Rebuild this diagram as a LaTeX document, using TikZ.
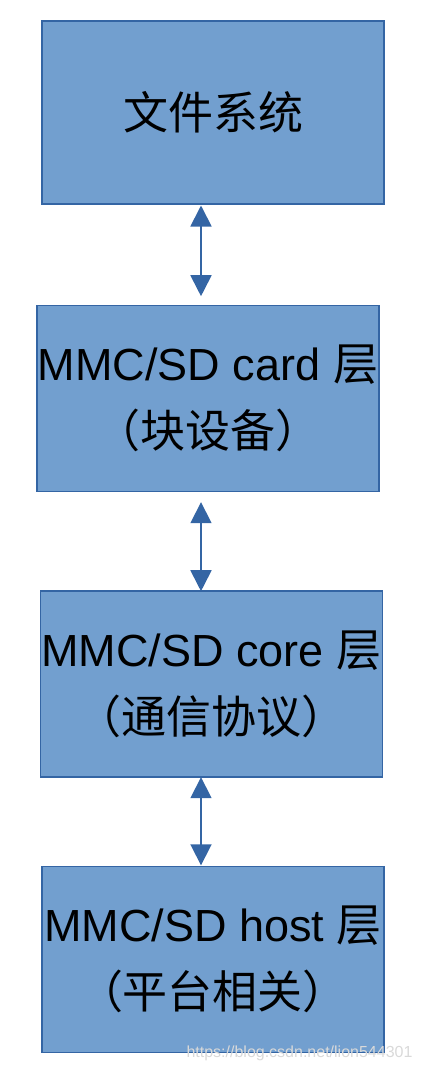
\documentclass[tikz,border=0pt]{standalone}
\usepackage{fontspec}
\setmainfont{Liberation Sans}
\newfontfamily\cjk{Noto Sans CJK SC}
\usepackage{xcolor}
\usetikzlibrary{positioning,arrows.meta}
\definecolor{layerfill}{HTML}{729FCF}
\definecolor{layerline}{HTML}{3465A4}
\begin{document}
\begin{tikzpicture}[x=1pt,y=-1pt,
                layer/.style = {draw = layerline, fill = layerfill, line width = 1.5pt,
                    minimum width = 342pt, minimum height = 186pt, inner sep = 0pt, outer sep = 0pt,
                    align = center, font = \fontsize{45}{67}\selectfont},
                link/.style = {draw = layerline, line width = 1.8pt,
                    {Triangle[width=21pt,length=21pt]}-{Triangle[width=21pt,length=21pt]}}]
            \useasboundingbox (0,0) rectangle (424,1072);
            \node[layer, minimum height = 183pt] (nfs) at (213,112.5) {{\cjk 文件系统}};
            \node[layer] (ncard) at (208,398.7) {MMC/SD card {\cjk 层}\\{\cjk （块设备）}};
            \node[layer] (ncore) at (211.5,684.2) {MMC/SD core {\cjk 层}\\{\cjk （通信协议）}};
            \node[layer] (nhost) at (213,959.3) {MMC/SD host {\cjk 层}\\{\cjk （平台相关）}};
            \coordinate (naxis) at (201,0);
            \draw[link, shorten <= 1.5pt, shorten >= 9.5pt] (nfs.south -| naxis) -- (ncard.north -| naxis);
            \draw[link, shorten <= 10.5pt] (ncard.south -| naxis) -- (ncore.north -| naxis);
            \draw[link, shorten >= 1pt] (ncore.south -| naxis) -- (nhost.north -| naxis);
            \node[text = black!15, font = \fontsize{16}{16}\selectfont, anchor = east] (nmark) at (416,1053) {https://blog.csdn.net/lion544301};
            \end{tikzpicture}
\end{document}
